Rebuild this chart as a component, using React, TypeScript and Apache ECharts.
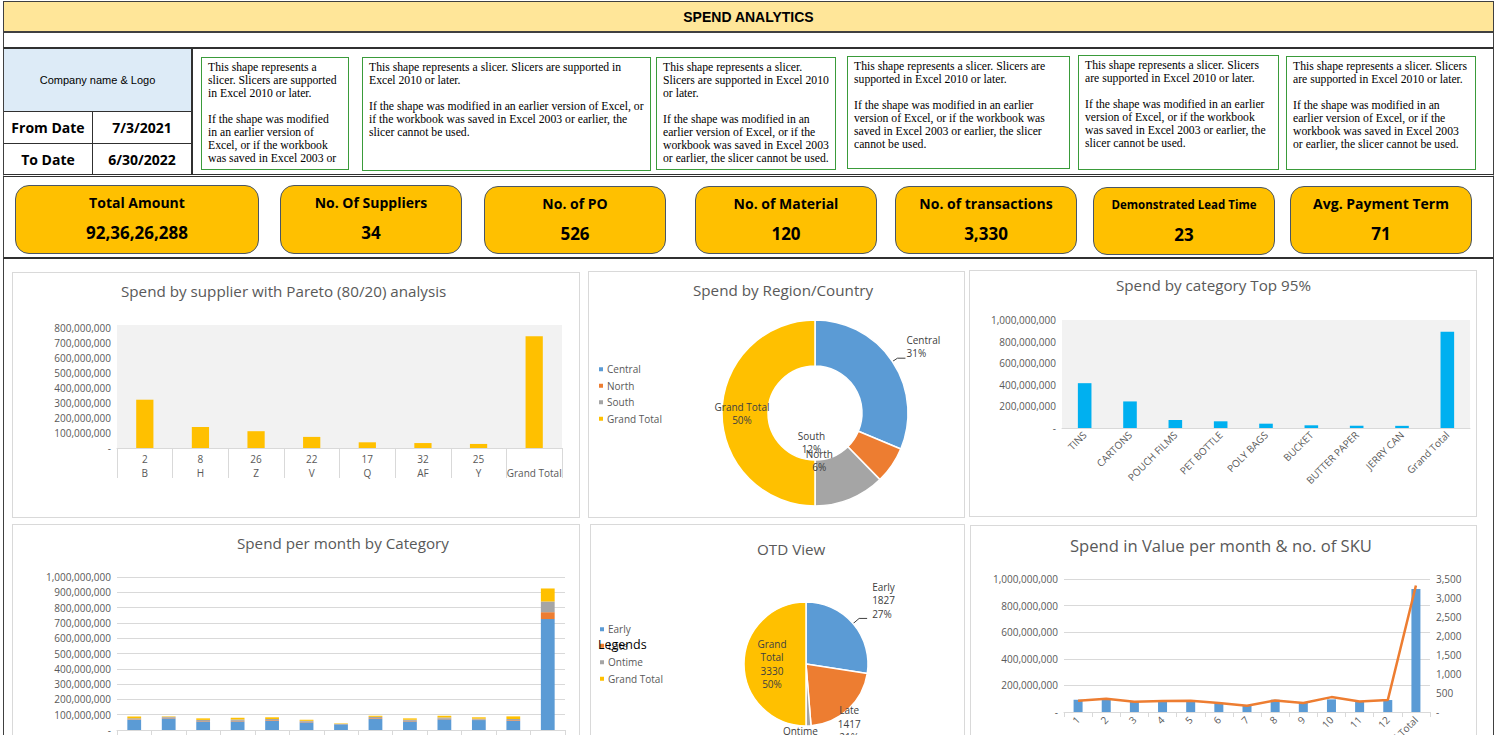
import React, { useEffect, useRef } from 'react';
import * as echarts from 'echarts';

// ---------------- DATA ----------------
const headerTitle = 'SPEND ANALYTICS';
const fromDate = '7/3/2021';
const toDate = '6/30/2022';

const kpiTitles = ['Total Amount', 'No. Of Suppliers', 'No. of PO', 'No. of Material', 'No. of transactions', 'Demonstrated Lead Time', 'Avg. Payment Term'];
const kpiValues = ['92,36,26,288', '34', '526', '120', '3,330', '23', '71'];

const supplierCodes = ['2', '8', '26', '22', '17', '32', '25', ''];
const supplierNames = ['B', 'H', 'Z', 'V', 'Q', 'AF', 'Y', 'Grand Total'];
const supplierSpend = [322000000, 140000000, 112000000, 74000000, 38000000, 33000000, 27000000, 745000000];

const regionNames = ['Central', 'North', 'South', 'Grand Total'];
const regionSpend = [578600000, 118000000, 227000000, 923600000];

const categoryNames = ['TINS', 'CARTONS', 'POUCH FILMS', 'PET BOTTLE', 'POLY BAGS', 'BUCKET', 'BUTTER PAPER', 'JERRY CAN', 'Grand Total'];
const categorySpend = [415000000, 246000000, 74000000, 62000000, 40000000, 25000000, 21000000, 20000000, 892000000];

const monthLabels = ['1', '2', '3', '4', '5', '6', '7', '8', '9', '10', '11', '12', 'Grand Total'];
const monthCat1 = [65, 76, 56, 56, 61, 50, 37, 74, 56, 70, 65, 61, 725].map((v) => v * 1e6);
const monthCat2 = [4, 4, 3, 4, 4, 4, 1, 4, 4, 4, 3, 4, 45].map((v) => v * 1e6);
const monthCat3 = [8, 6, 7, 9, 7, 6, 2, 8, 7, 8, 6, 7, 70].map((v) => v * 1e6);
const monthCat4 = [12, 3, 10, 11, 11, 7, 3, 7, 9, 11, 9, 17, 85].map((v) => v * 1e6);

const otdNames = ['Early', 'Late', 'Ontime', 'Grand Total'];
const otdCounts = [1827, 1417, 86, 3330];

const skuSpend = [92, 102, 82, 85, 87, 67, 47, 92, 72, 95, 82, 90, 925].map((v) => v * 1e6);
const skuCount = [296, 348, 270, 287, 296, 235, 165, 305, 235, 392, 278, 313, 3330];

const slicerLines = [
  ['This shape represents a', 'slicer. Slicers are supported', 'in Excel 2010 or later.', '', 'If the shape was modified', 'in an earlier version of', 'Excel, or if the workbook', 'was saved in Excel 2003 or'],
  ['This shape represents a slicer. Slicers are supported in', 'Excel 2010 or later.', '', 'If the shape was modified in an earlier version of Excel, or', 'if the workbook was saved in Excel 2003 or earlier, the', 'slicer cannot be used.'],
  ['This shape represents a slicer.', 'Slicers are supported in Excel 2010', 'or later.', '', 'If the shape was modified in an', 'earlier version of Excel, or if the', 'workbook was saved in Excel 2003', 'or earlier, the slicer cannot be used.'],
  ['This shape represents a slicer. Slicers are', 'supported in Excel 2010 or later.', '', 'If the shape was modified in an earlier', 'version of Excel, or if the workbook was', 'saved in Excel 2003 or earlier, the slicer', 'cannot be used.'],
  ['This shape represents a slicer. Slicers', 'are supported in Excel 2010 or later.', '', 'If the shape was modified in an earlier', 'version of Excel, or if the workbook', 'was saved in Excel 2003 or earlier, the', 'slicer cannot be used.'],
  ['This shape represents a slicer. Slicers', 'are supported in Excel 2010 or later.', '', 'If the shape was modified in an', 'earlier version of Excel, or if the', 'workbook was saved in Excel 2003', 'or earlier, the slicer cannot be used.'],
];

// ---------------- LAYOUT / STYLE ----------------
const FONT = "'Open Sans', sans-serif";
const GREY = '#595959';
const BLUE = '#5B9BD5';
const ORANGE = '#ED7D31';
const GRAY = '#A5A5A5';
const YELLOW = '#FFC000';

const fmt = (v: number) => (v === 0 ? '-' : v.toLocaleString('en-US'));

const slicerBoxes = [
  [201, 57, 148, 113],
  [362, 57, 289, 114],
  [656, 57, 180, 113],
  [847, 56, 223, 113],
  [1078, 55, 201, 115],
  [1286, 56, 190, 114],
];
const kpiBoxes = [
  [15, 185, 244, 69],
  [280, 185, 182, 69],
  [484, 186, 182, 68],
  [695, 186, 182, 68],
  [895, 186, 182, 68],
  [1093, 187, 182, 68],
  [1290, 186, 182, 68],
];

const titleStyle = { fontSize: 15.2, fontWeight: 'normal' as const, color: GREY, fontFamily: FONT };
const axisLabelBase = { color: GREY, fontSize: 10, fontFamily: FONT };
const noLine = { show: false };

function EChart({ option, left, top, width, height }: any) {
  const ref = useRef<HTMLDivElement>(null);
  useEffect(() => {
    const chart = echarts.init(ref.current as HTMLDivElement, undefined, { renderer: 'svg' });
    chart.setOption(option);
    return () => chart.dispose();
  }, []);
  return (
    <div style={{ position: 'absolute', left, top, width, height, border: '1px solid #D9D9D9', boxSizing: 'border-box', background: '#fff' }}>
      <div ref={ref} style={{ width: width - 2, height: height - 2 }} />
    </div>
  );
}

const pctFmt = (p: any) => `${p.name}\n${Math.round(p.percent)}%`;

const optSupplier = {
  animation: false,
  textStyle: { fontFamily: FONT },
  title: { text: 'Spend by supplier with Pareto (80/20) analysis', left: 103, top: 5, textStyle: titleStyle },
  grid: { left: 104, right: 17, top: 52, height: 123, show: true, backgroundColor: '#F2F2F2', borderWidth: 0 },
  xAxis: {
    type: 'category',
    data: supplierCodes.map((c, i) => `${c}\n${supplierNames[i]}`),
    axisLine: { lineStyle: { color: '#D9D9D9' } },
    axisTick: { show: true, length: 30, interval: 0, lineStyle: { color: '#D9D9D9' } },
    axisLabel: { ...axisLabelBase, lineHeight: 14, interval: 0, margin: 4 },
  },
  yAxis: {
    type: 'value', min: 0, max: 820000000, interval: 100000000,
    axisLine: noLine, axisTick: noLine,
    splitLine: { show: false },
    axisLabel: { ...axisLabelBase, formatter: (v: number) => (v > 800000000 ? '' : fmt(v)), margin: 6, showMaxLabel: false },
  },
  series: [{ type: 'bar', data: supplierSpend, barWidth: '31%', itemStyle: { color: YELLOW } }],
};

const optRegion = {
  animation: false,
  textStyle: { fontFamily: FONT },
  title: { text: 'Spend by Region/Country', left: 99, top: 5, textStyle: titleStyle },
  legend: {
    orient: 'vertical', left: 3, top: 86, icon: 'rect', itemWidth: 6, itemHeight: 6, itemGap: 4,
    textStyle: { color: GREY, fontSize: 10, fontFamily: FONT, lineHeight: 12.5, padding: [0, 0, 0, -2] },
    data: regionNames,
  },
  color: [BLUE, ORANGE, GRAY, YELLOW],
  series: [{
    type: 'pie', center: [226, 141], radius: [47, 93], startAngle: 90, clockwise: true, avoidLabelOverlap: false,
    itemStyle: { borderColor: '#fff', borderWidth: 1.5 },
    label: { color: '#404040', fontSize: 10, lineHeight: 13, fontFamily: FONT, formatter: pctFmt },
    labelLine: { length: 6, length2: 8, lineStyle: { color: '#404040' } },
    labelLayout: (p: any) => ([{ dx: -4, dy: -12 }, { dx: -56, dy: 6 }, { dx: -31, dy: -38 }, {}] as any)[p.dataIndex],
    data: regionNames.map((n, i) => ({
      name: n, value: regionSpend[i],
      label: { position: i === 0 ? 'outside' : 'inside' },
      labelLine: { show: i === 0 },
    })),
  }],
};

const optCategory = {
  animation: false,
  textStyle: { fontFamily: FONT },
  title: { text: 'Spend by category Top 95%', left: 141, top: 1, textStyle: titleStyle },
  grid: { left: 92, right: 6, top: 49, height: 108, show: true, backgroundColor: '#F2F2F2', borderWidth: 0 },
  xAxis: {
    type: 'category', data: categoryNames,
    axisLine: { lineStyle: { color: '#D9D9D9' } },
    axisTick: { show: false },
    axisLabel: { ...axisLabelBase, rotate: 45, interval: 0, margin: 5 },
  },
  yAxis: {
    type: 'value', min: 0, max: 1000000000, interval: 200000000,
    axisLine: noLine, axisTick: noLine,
    splitLine: { show: false },
    axisLabel: { ...axisLabelBase, formatter: fmt, margin: 6 },
  },
  series: [{ type: 'bar', data: categorySpend, barWidth: '30%', itemStyle: { color: '#00B0F0' } }],
};

const optMonth = {
  animation: false,
  textStyle: { fontFamily: FONT },
  title: { text: 'Spend per month by Category', left: 219, top: 5, textStyle: titleStyle },
  grid: { left: 104, right: 14, top: 52, height: 153 },
  xAxis: {
    type: 'category', data: monthLabels,
    axisLine: { lineStyle: { color: '#D9D9D9' } },
    axisTick: { show: true, lineStyle: { color: '#D9D9D9' } },
    axisLabel: { ...axisLabelBase, interval: 0 },
  },
  yAxis: {
    type: 'value', min: 0, max: 1000000000, interval: 100000000,
    axisLine: noLine, axisTick: noLine,
    splitLine: { lineStyle: { color: '#D9D9D9' } },
    axisLabel: { ...axisLabelBase, formatter: fmt, margin: 6 },
  },
  series: [
    { name: 'Category 1', type: 'bar', stack: 's', data: monthCat1, barWidth: '40%', itemStyle: { color: BLUE } },
    { name: 'Category 2', type: 'bar', stack: 's', data: monthCat2, itemStyle: { color: ORANGE } },
    { name: 'Category 3', type: 'bar', stack: 's', data: monthCat3, itemStyle: { color: GRAY } },
    { name: 'Category 4', type: 'bar', stack: 's', data: monthCat4, itemStyle: { color: YELLOW } },
  ],
};

const optOtd = {
  animation: false,
  textStyle: { fontFamily: FONT },
  title: { text: 'OTD View', left: 161, top: 11, textStyle: titleStyle },
  legend: {
    orient: 'vertical', left: 2, top: 93, icon: 'rect', itemWidth: 6, itemHeight: 6, itemGap: 4,
    textStyle: { color: GREY, fontSize: 10, fontFamily: FONT, lineHeight: 12.5, padding: [0, 0, 0, -2] },
    data: otdNames,
  },
  graphic: [{ type: 'text', left: 7, top: 113, z: 100, style: { text: 'Legends', fontSize: 12.5, fill: '#000', fontFamily: FONT } }],
  color: [BLUE, ORANGE, GRAY, YELLOW],
  series: [{
    type: 'pie', center: [215, 139], radius: [0, 62], startAngle: 90, clockwise: true, avoidLabelOverlap: false,
    itemStyle: { borderColor: '#fff', borderWidth: 1.5 },
    label: {
      color: '#404040', fontSize: 10, lineHeight: 13.5, fontFamily: FONT,
      formatter: (p: any) => `${p.name.replace(' ', '\n')}\n${p.value}\n${Math.round(p.percent)}%`,
    },
    labelLine: { length: 8, length2: 8, lineStyle: { color: '#404040' } },
    labelLayout: (p: any) => ([{ dy: -18 }, { dx: 20, dy: 35 }, { dx: -7, dy: 47 }, {}] as any)[p.dataIndex],
    data: otdNames.map((n, i) => ({
      name: n, value: otdCounts[i],
      label: { position: i === 0 ? 'outside' : 'inside' },
      labelLine: { show: i === 0 },
    })),
  }],
};

const optSku = {
  animation: false,
  textStyle: { fontFamily: FONT },
  title: { text: 'Spend in Value per month & no. of SKU', left: 94, top: 6, textStyle: { ...titleStyle, fontSize: 16.6 } },
  grid: { left: 93, right: 46, top: 53, height: 133 },
  xAxis: {
    type: 'category', data: monthLabels,
    axisLine: { lineStyle: { color: '#D9D9D9' } },
    axisTick: { show: true, lineStyle: { color: '#D9D9D9' } },
    axisLabel: { ...axisLabelBase, rotate: 45, interval: 0, margin: 6 },
  },
  yAxis: [
    {
      type: 'value', min: 0, max: 1000000000, interval: 200000000,
      axisLine: noLine, axisTick: noLine,
      splitLine: { show: true, lineStyle: { color: '#D9D9D9' } },
      axisLabel: { ...axisLabelBase, formatter: fmt, margin: 6 },
    },
    {
      type: 'value', min: 0, max: 3500, interval: 500, position: 'right',
      axisLine: noLine, axisTick: noLine,
      splitLine: { show: false },
      axisLabel: { ...axisLabelBase, formatter: fmt, margin: 6 },
    },
  ],
  series: [
    { name: 'Spend', type: 'bar', data: skuSpend, barWidth: '32%', itemStyle: { color: BLUE } },
    { name: 'No. of SKU', type: 'line', yAxisIndex: 1, data: skuCount, symbol: 'none', z: 3, lineStyle: { color: ORANGE, width: 2.5 }, itemStyle: { color: ORANGE } },
  ],
};

const abs = (left: number, top: number, width: number, height: number, extra: any = {}) => ({
  position: 'absolute' as const, left, top, width, height, boxSizing: 'border-box' as const, ...extra,
});

export default function App() {
  return (
    <div style={{ position: 'absolute', left: 0, top: 0, width: 1497, height: 735, overflow: 'hidden', background: '#fff' }}>
      {/* header */}
      <div style={abs(3, 1, 1491, 32, { background: '#FFE699', border: '1px solid #404040', borderBottom: '2px solid #404040', display: 'flex', alignItems: 'center', justifyContent: 'center', fontFamily: "'Liberation Sans', Arial, sans-serif", fontWeight: 'bold', fontSize: 14, color: '#000' })}>
        {headerTitle}
      </div>
      <div style={abs(3, 33, 1491, 15, { borderLeft: '1px solid #404040', borderRight: '1px solid #404040' })} />
      {/* info row */}
      <div style={abs(3, 47, 1491, 130, { borderTop: '2px solid #303030', borderBottom: '3px double #303030', borderLeft: '1px solid #404040', borderRight: '1px solid #404040' })} />
      <div style={abs(4, 49, 189, 63, { background: '#DDEBF7', borderRight: '2px solid #303030', borderBottom: '1px solid #303030', display: 'flex', alignItems: 'center', justifyContent: 'center', fontFamily: "'Liberation Sans', Arial, sans-serif", fontSize: 11, color: '#000' })}>
        Company name &amp; Logo
      </div>
      {[[fromDate, 'From Date', 112, 32], [toDate, 'To Date', 144, 31]].map(([d, lbl, t, h]: any) => (
        <div key={lbl} style={abs(4, t, 189, h, { borderRight: '2px solid #303030', borderBottom: t === 112 ? '1px solid #303030' : 'none', fontFamily: FONT, fontWeight: 'bold', fontSize: 14, color: '#000' })}>
          <div style={abs(0, 0, 89, h - 1, { borderRight: '1px solid #303030', display: 'flex', alignItems: 'center', justifyContent: 'center' })}>{lbl}</div>
          <div style={abs(89, 0, 98, h - 1, { display: 'flex', alignItems: 'center', justifyContent: 'center' })}>{d}</div>
        </div>
      ))}
      {slicerBoxes.map(([l, t, w, h], i) => (
        <div key={i} style={abs(l, t, w, h, { border: '1px solid #3A9B3A', background: '#fff', overflow: 'hidden', padding: '3px 3px 3px 6px', fontFamily: "'Liberation Serif', 'Times New Roman', serif", fontSize: 11.7, lineHeight: '13px', color: '#000', whiteSpace: 'nowrap' })}>
          {slicerLines[i].map((ln, j) => (
            <div key={j} style={{ height: 13 }}>{ln}</div>
          ))}
        </div>
      ))}
      {/* KPI row */}
      <div style={abs(3, 177, 1491, 82, { borderLeft: '1px solid #404040', borderRight: '1px solid #404040', borderBottom: '2px solid #303030' })} />
      {kpiBoxes.map(([l, t, w, h], i) => (
        <div key={i} style={abs(l, t, w, h, { background: YELLOW, border: '1px solid #4A5666', borderRadius: 14, fontFamily: FONT, fontWeight: 'bold', color: '#000', textAlign: 'center' })}>
          <div style={{ position: 'absolute', left: 0, right: 0, top: 6, lineHeight: '22px', fontSize: i === 5 ? 11.5 : 14 }}>{kpiTitles[i]}</div>
          <div style={{ position: 'absolute', left: 0, right: 0, top: 35, lineHeight: '24px', fontSize: 17 }}>{kpiValues[i]}</div>
        </div>
      ))}
      {/* chart area frame */}
      <div style={abs(3, 259, 1491, 500, { borderLeft: '1px solid #404040', borderRight: '1px solid #404040' })} />
      <EChart option={optSupplier} left={12} top={272} width={568} height={246} />
      <EChart option={optRegion} left={588} top={271} width={377} height={247} />
      <EChart option={optCategory} left={969} top={270} width={508} height={247} />
      <EChart option={optMonth} left={12} top={524} width={568} height={240} />
      <EChart option={optOtd} left={590} top={524} width={375} height={240} />
      <EChart option={optSku} left={970} top={525} width={507} height={240} />
    </div>
  );
}
